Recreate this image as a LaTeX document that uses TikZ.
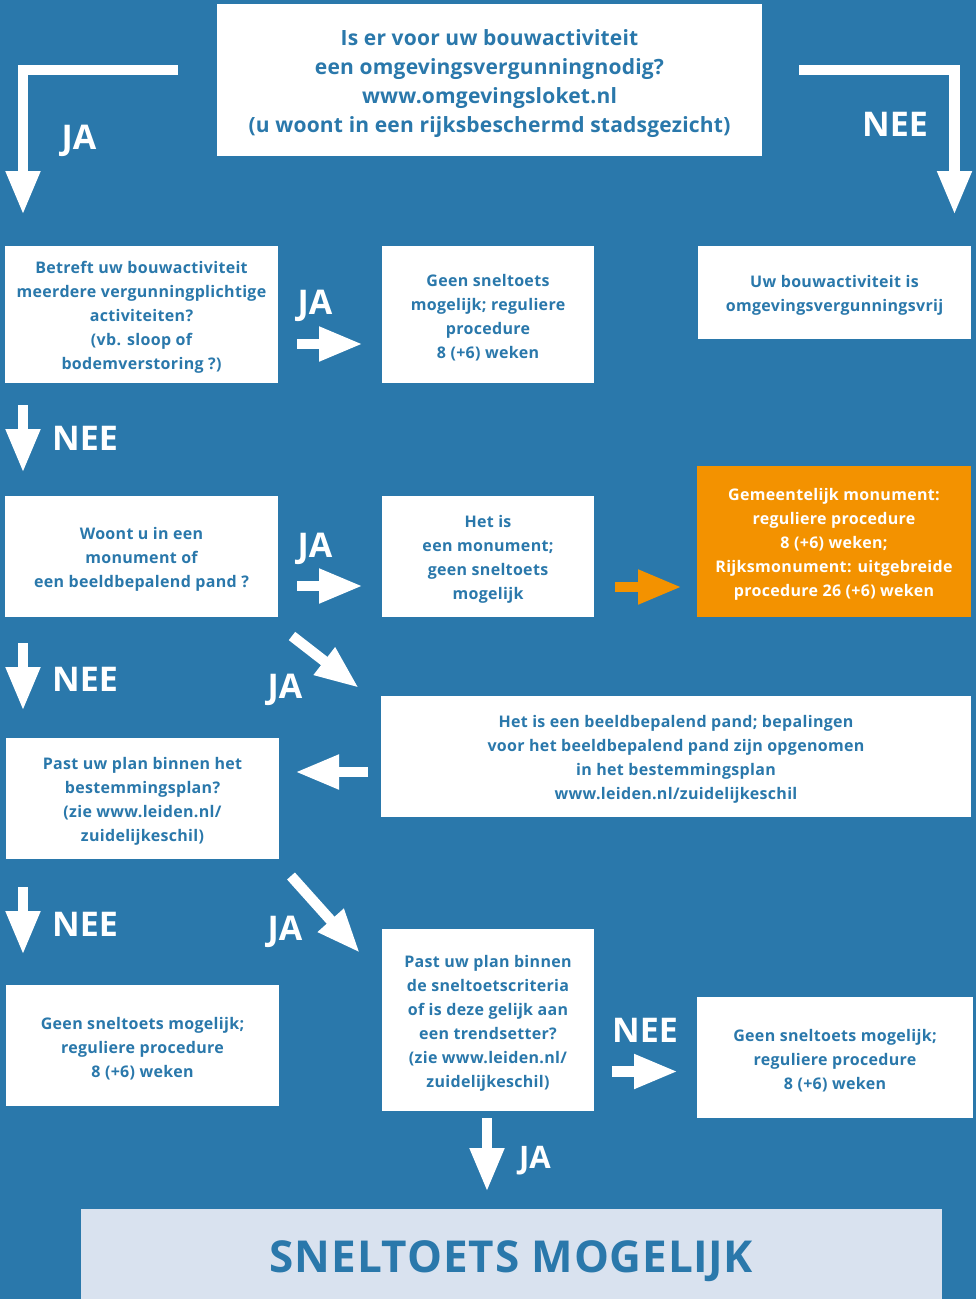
\documentclass[tikz,border=0pt]{standalone}
\usepackage{fontspec}
\setmainfont{Open Sans}
\usetikzlibrary{arrows.meta}
\definecolor{bg}{RGB}{42,120,171}
\definecolor{oranj}{RGB}{243,146,0}
\definecolor{light}{RGB}{217,226,239}
\begin{document}
\begin{tikzpicture}[x=1pt,y=-1pt,
  box/.style={fill=white, inner sep=0pt},
  btxt/.style={text=bg, align=center, inner sep=0pt, font=\bfseries\fontsize{16}{24}\selectfont\addfontfeature{LetterSpace=2}},
  lbl/.style={text=white, anchor=base, inner sep=0pt, font=\bfseries\fontsize{34}{34}\selectfont},
  warr/.style={draw=white, line width=10.5pt, line join=miter, -{Triangle[length=44pt,width=32pt]}}]
\fill[bg] (0,0) rectangle (976,1299);
\useasboundingbox (0,0) rectangle (976,1299);

% boxes
\node[box, minimum width=545pt, minimum height=152pt] (top) at (489.5,80) {};
\node[box, minimum width=273pt, minimum height=137pt] (a) at (141.5,314.5) {};
\node[box, minimum width=212pt, minimum height=137pt] (b) at (488,314.5) {};
\node[box, minimum width=273pt, minimum height=93pt] (c) at (834.5,292.5) {};
\node[box, minimum width=273pt, minimum height=121pt] (d) at (141.5,556.5) {};
\node[box, minimum width=212pt, minimum height=121pt] (e) at (488,556.5) {};
\node[box, fill=oranj, minimum width=274pt, minimum height=151pt] (o) at (834,541.5) {};
\node[box, minimum width=590pt, minimum height=121pt] (f) at (676,756.5) {};
\node[box, minimum width=273pt, minimum height=121pt] (g) at (142.5,798.5) {};
\node[box, minimum width=273pt, minimum height=121pt] (h) at (142.5,1045.5) {};
\node[box, minimum width=212pt, minimum height=182pt] (i) at (488,1020) {};
\node[box, minimum width=276pt, minimum height=121pt] (j) at (835,1057.5) {};
\node[box, fill=light, minimum width=861pt, minimum height=96pt] (k) at (511.5,1257) {};

% texts
\node[btxt, font=\bfseries\fontsize{21}{29}\selectfont\addfontfeature{LetterSpace=1}] (topt) at ([yshift=-3.5pt]top.center)
  {Is er voor uw bouwactiviteit\\een omgevingsvergunningnodig?\\www.omgevingsloket.nl\\(u woont in een rijksbeschermd stadsgezicht)};
\node[btxt] (at) at ([yshift=-3pt]a.center)
  {Betreft uw bouwactiviteit\\meerdere vergunningplichtige\\activiteiten?\\(vb. sloop of\\bodemverstoring ?)};
\node[btxt] (bt) at ([yshift=-3pt]b.center)
  {Geen sneltoets\\mogelijk; reguliere\\procedure\\8 (+6) weken};
\node[btxt] (ct) at ([yshift=-3pt]c.center)
  {Uw bouwactiviteit is\\omgevingsvergunningsvrij};
\node[btxt] (dt) at ([yshift=-3pt]d.center)
  {Woont u in een\\monument of\\een beeldbepalend pand ?};
\node[btxt] (et) at ([yshift=-3pt]e.center)
  {Het is\\een monument;\\geen sneltoets\\mogelijk};
\node[btxt, text=white] (ot) at ([yshift=-3pt]o.center)
  {Gemeentelijk monument:\\reguliere procedure\\8 (+6) weken;\\Rijksmonument: uitgebreide\\procedure 26 (+6) weken};
\node[btxt] (ft) at ([yshift=-3pt]f.center)
  {Het is een beeldbepalend pand; bepalingen\\voor het beeldbepalend pand zijn opgenomen\\in het bestemmingsplan\\www.leiden.nl/zuidelijkeschil};
\node[btxt] (gt) at ([yshift=-3pt]g.center)
  {Past uw plan binnen het\\bestemmingsplan?\\(zie www.leiden.nl/\\zuidelijkeschil)};
\node[btxt] (ht) at ([yshift=-3pt]h.center)
  {Geen sneltoets mogelijk;\\reguliere procedure\\8 (+6) weken};
\node[btxt] (it) at ([yshift=-3pt]i.center)
  {Past uw plan binnen\\de sneltoetscriteria\\of is deze gelijk aan\\een trendsetter?\\(zie www.leiden.nl/\\zuidelijkeschil)};
\node[btxt] (jt) at ([yshift=-3pt]j.center)
  {Geen sneltoets mogelijk;\\reguliere procedure\\8 (+6) weken};
\node[btxt, font=\bfseries\fontsize{44}{44}\selectfont\addfontfeature{LetterSpace=2}] (kt) at ([yshift=-4pt]k.center)
  {SNELTOETS MOGELI\kern0ptJK};

% arrow end points
\coordinate (l1s) at (178,70); \coordinate (l1c) at (23,70); \coordinate (l1e) at (23,215);
\coordinate (r1s) at (799,70); \coordinate (r1c) at (954.5,70); \coordinate (r1e) at (954.5,215);
\coordinate (ab1) at (297,344); \coordinate (ab2) at (363,344);
\coordinate (ad1) at (23,405); \coordinate (ad2) at (23,473);
\coordinate (de1) at (297,586); \coordinate (de2) at (363,586);
\coordinate (eo1) at (615,587); \coordinate (eo2) at (682,587);
\coordinate (dg1) at (23,643); \coordinate (dg2) at (23,711);
\coordinate (df1) at (292,636); \coordinate (df2) at (359,688);
\coordinate (fg1) at (368,772); \coordinate (fg2) at (295,772);
\coordinate (gh1) at (23,887); \coordinate (gh2) at (23,955);
\coordinate (gi1) at (291,876); \coordinate (gi2) at (360,953);
\coordinate (ij1) at (612,1071.5); \coordinate (ij2) at (678,1071.5);
\coordinate (ik1) at (487,1118); \coordinate (ik2) at (487,1192);

\draw[warr] (l1s) -- (l1c) -- (l1e);
\draw[warr] (r1s) -- (r1c) -- (r1e);
\draw[warr] (ab1) -- (ab2);
\draw[warr] (ad1) -- (ad2);
\draw[warr] (de1) -- (de2);
\draw[warr, draw=oranj] (eo1) -- (eo2);
\draw[warr] (dg1) -- (dg2);
\draw[warr] (df1) -- (df2);
\draw[warr] (fg1) -- (fg2);
\draw[warr] (gh1) -- (gh2);
\draw[warr] (gi1) -- (gi2);
\draw[warr] (ij1) -- (ij2);
\draw[warr] (ik1) -- (ik2);

% labels
\node[lbl] (t1) at (79,149) {JA};
\node[lbl] (t2) at (895,136) {NEE};
\node[lbl] (t3) at (315,314) {JA};
\node[lbl] (t4) at (85,450) {NEE};
\node[lbl] (t5) at (315,557) {JA};
\node[lbl] (t6) at (85,691) {NEE};
\node[lbl] (t7) at (285,698) {JA};
\node[lbl] (t8) at (85,936) {NEE};
\node[lbl] (t9) at (285,940) {JA};
\node[lbl] (t10) at (645,1042) {NEE};
\node[lbl, font=\bfseries\fontsize{31}{31}\selectfont] (t11) at (535,1168) {JA};
\end{tikzpicture}
\end{document}
